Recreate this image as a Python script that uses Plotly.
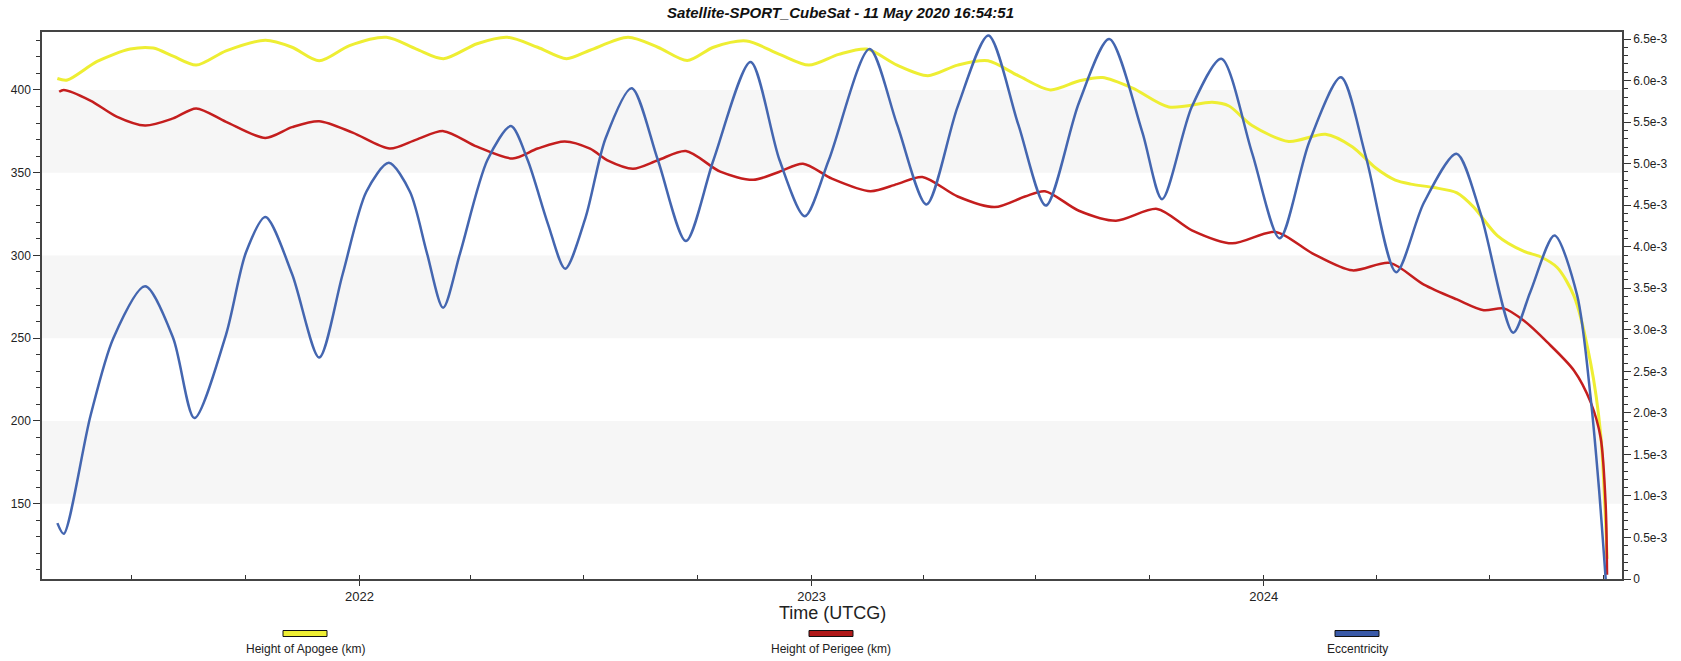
import plotly.graph_objects as go
from datetime import datetime

# ---------------- data (decimal years / values) ----------------
apogee_t = [2021.332, 2021.354, 2021.42, 2021.493, 2021.544, 2021.588, 2021.639, 2021.705, 2021.792,
            2021.851, 2021.911, 2021.978, 2022.06, 2022.126, 2022.186, 2022.26, 2022.327, 2022.394,
            2022.458, 2022.51, 2022.594, 2022.66, 2022.725, 2022.783, 2022.856, 2022.929, 2022.994,
            2023.06, 2023.122, 2023.189, 2023.257, 2023.323, 2023.39, 2023.457, 2023.528, 2023.591,
            2023.643, 2023.71, 2023.79, 2023.886, 2023.923, 2023.974, 2024.055, 2024.136, 2024.195,
            2024.247, 2024.29, 2024.324, 2024.375, 2024.426, 2024.463, 2024.515, 2024.574, 2024.61,
            2024.647, 2024.684, 2024.721, 2024.743, 2024.754, 2024.757]
apogee_km = [406.9, 406.0, 417.2, 424.7, 425.3, 420.4, 415.0, 423.6, 430.0,
             425.8, 417.6, 426.8, 431.8, 424.7, 418.9, 427.9, 431.8, 425.8,
             418.9, 424.0, 431.8, 425.8, 417.8, 425.8, 429.6, 421.5, 415.0,
             421.5, 424.7, 415.0, 408.6, 415.0, 417.6, 408.6, 400.0, 405.4,
             407.5, 401.1, 389.7, 392.5, 390.3, 378.5, 368.9, 373.2, 365.7,
             352.8, 345.5, 343.1, 341.0, 337.8, 329.2, 312.0, 302.4, 299.2,
             292.7, 275.6, 234.8, 191.9, 138.2, 116.7]

perigee_t = [2021.336, 2021.346, 2021.405, 2021.463, 2021.526, 2021.588, 2021.639, 2021.705, 2021.792,
             2021.851, 2021.911, 2021.985, 2022.067, 2022.126, 2022.186, 2022.26, 2022.339, 2022.394,
             2022.454, 2022.51, 2022.551, 2022.605, 2022.66, 2022.722, 2022.798, 2022.871, 2022.929,
             2022.981, 2023.045, 2023.13, 2023.189, 2023.245, 2023.323, 2023.405, 2023.472, 2023.516,
             2023.591, 2023.673, 2023.764, 2023.841, 2023.93, 2024.026, 2024.107, 2024.195, 2024.278,
             2024.353, 2024.426, 2024.485, 2024.529, 2024.574, 2024.625, 2024.684, 2024.721, 2024.743,
             2024.754, 2024.757]
perigee_km = [398.9, 400.0, 393.6, 383.9, 378.5, 382.8, 388.8, 380.7, 371.0,
              377.5, 381.1, 374.2, 364.6, 370.0, 375.1, 365.7, 358.6, 364.6,
              368.9, 364.5, 357.1, 352.4, 357.5, 363.1, 350.6, 345.7, 350.6,
              355.4, 346.4, 338.8, 343.1, 347.4, 335.6, 329.2, 335.6, 338.8,
              327.0, 321.0, 328.1, 315.2, 307.3, 314.2, 301.3, 291.0, 295.5,
              282.4, 273.4, 266.9, 268.0, 260.5, 247.6, 230.5, 211.2, 189.7,
              149.0, 107.1]

ecc_t = [2021.332, 2021.346, 2021.405, 2021.456, 2021.526, 2021.588, 2021.635, 2021.705, 2021.749,
         2021.792, 2021.851, 2021.911, 2021.963, 2022.015, 2022.065, 2022.112, 2022.149, 2022.185,
         2022.223, 2022.283, 2022.335, 2022.372, 2022.417, 2022.455, 2022.50, 2022.544, 2022.602,
         2022.66, 2022.722, 2022.783, 2022.865, 2022.929, 2022.985, 2023.038, 2023.128, 2023.189,
         2023.254, 2023.323, 2023.391, 2023.457, 2023.518, 2023.591, 2023.658, 2023.731, 2023.775,
         2023.841, 2023.906, 2023.974, 2024.035, 2024.10, 2024.17, 2024.225, 2024.292, 2024.353,
         2024.425, 2024.478, 2024.55, 2024.588, 2024.641, 2024.691, 2024.721, 2024.739, 2024.754]
ecc = [0.673e-3, 0.544e-3, 1.959e-3, 2.902e-3, 3.523e-3, 2.902e-3, 1.937e-3, 2.943e-3, 3.930e-3,
       4.357e-3, 3.672e-3, 2.666e-3, 3.672e-3, 4.659e-3, 5.010e-3, 4.659e-3, 3.930e-3, 3.265e-3,
       3.930e-3, 5.044e-3, 5.452e-3, 5.044e-3, 4.273e-3, 3.736e-3, 4.350e-3, 5.300e-3, 5.909e-3,
       5.044e-3, 4.068e-3, 5.044e-3, 6.223e-3, 5.044e-3, 4.367e-3, 5.044e-3, 6.380e-3, 5.472e-3,
       4.509e-3, 5.687e-3, 6.544e-3, 5.472e-3, 4.495e-3, 5.731e-3, 6.500e-3, 5.386e-3, 4.573e-3,
       5.687e-3, 6.264e-3, 5.130e-3, 4.102e-3, 5.258e-3, 6.039e-3, 5.086e-3, 3.694e-3, 4.529e-3,
       5.120e-3, 4.401e-3, 2.965e-3, 3.459e-3, 4.136e-3, 3.417e-3, 2.175e-3, 1.102e-3, 0.0]

left_ticks = [150, 200, 250, 300, 350, 400]
right_tickvals = [0, 0.5e-3, 1.0e-3, 1.5e-3, 2.0e-3, 2.5e-3, 3.0e-3, 3.5e-3, 4.0e-3, 4.5e-3,
                  5.0e-3, 5.5e-3, 6.0e-3, 6.5e-3]
right_ticktext = ["0", "0.5e-3", "1.0e-3", "1.5e-3", "2.0e-3", "2.5e-3", "3.0e-3", "3.5e-3",
                  "4.0e-3", "4.5e-3", "5.0e-3", "5.5e-3", "6.0e-3", "6.5e-3"]
bands = [(150, 200), (250, 300), (350, 400)]
series_names = ["Height of Apogee (km)", "Height of Perigee (km)", "Eccentricity"]
x_range_dec = [2021.298, 2024.79]


def dec_to_date(y):
    yr = int(y)
    start = datetime(yr, 1, 1)
    end = datetime(yr + 1, 1, 1)
    return start + (end - start) * (y - yr)


def conv(ts):
    return [dec_to_date(v) for v in ts]


YEL = "#eeee33"
RED = "#c41e1e"
BLU = "#4466b0"
FONT = "Liberation Sans, Arial, sans-serif"

fig = go.Figure()
fig.add_trace(go.Scatter(x=conv(apogee_t), y=apogee_km, mode="lines", name=series_names[0],
                         line=dict(color=YEL, width=3, shape="spline", smoothing=0.8)))
fig.add_trace(go.Scatter(x=conv(perigee_t), y=perigee_km, mode="lines", name=series_names[1],
                         line=dict(color=RED, width=2.5, shape="spline", smoothing=0.8)))
fig.add_trace(go.Scatter(x=conv(ecc_t), y=ecc, mode="lines", name=series_names[2], yaxis="y2",
                         line=dict(color=BLU, width=2.5, shape="spline", smoothing=0.8)))

for lo, hi in bands:
    fig.add_shape(type="rect", xref="paper", yref="y", x0=0, x1=1, y0=lo, y1=hi,
                  fillcolor="#f6f6f6", line=dict(width=0), layer="below")

L, R, T, B = 42, 59, 32, 82
W, H = 1681, 661
pw = W - L - R
ph = H - T - B

# custom legend (swatch above label)
leg_px = [305, 831, 1357]
leg_cols = [YEL, "#b01818", "#3a5aa8"]
for px, col, name in zip(leg_px, leg_cols, series_names):
    xc = (px - L) / pw
    hw = 22 / pw
    y_sw = -(633.5 - (T + ph)) / ph
    hh = 3 / ph
    fig.add_shape(type="rect", xref="paper", yref="paper", x0=xc - hw, x1=xc + hw,
                  y0=y_sw - hh, y1=y_sw + hh, fillcolor=col, line=dict(color="#111111", width=1))
    fig.add_annotation(xref="paper", yref="paper", x=xc, y=-(649 - (T + ph)) / ph,
                       text=name, showarrow=False, xanchor="center", yanchor="middle",
                       font=dict(family=FONT, size=12, color="#222222"))

fig.add_annotation(xref="paper", yref="paper", x=(832 - L) / pw, y=-(613 - (T + ph)) / ph,
                   text="Time (UTCG)", showarrow=False, xanchor="center", yanchor="middle",
                   font=dict(family=FONT, size=18, color="#222222"))

fig.update_layout(
    width=W, height=H,
    margin=dict(l=L, r=R, t=T, b=B, autoexpand=False),
    paper_bgcolor="white", plot_bgcolor="white",
    showlegend=False,
    title=dict(text="<b><i>Satellite-SPORT_CubeSat - 11 May 2020 16:54:51</i></b>",
               x=0.5, xref="container", xanchor="center",
               y=1 - 13 / H, yref="container", yanchor="middle", automargin=False,
               font=dict(family=FONT, size=15, color="#111111")),
    xaxis=dict(type="date", range=[dec_to_date(x_range_dec[0]), dec_to_date(x_range_dec[1])],
               tick0="2022-01-01", dtick="M12", tickformat="%Y", automargin=False,
               ticks="outside", ticklen=5, tickcolor="#333", tickwidth=1,
               minor=dict(dtick="M3", tick0="2022-01-01", ticks="inside", ticklen=4, tickcolor="#333"),
               showgrid=False, showline=True, linecolor="#444", linewidth=1.5, mirror=True,
               tickfont=dict(family=FONT, size=13, color="#222"), zeroline=False),
    yaxis=dict(range=[104.5, 435], tickvals=left_ticks, ticks="outside", ticklen=7, automargin=False,
               tickcolor="#333", minor=dict(dtick=10, tick0=0, ticks="outside", ticklen=4, tickcolor="#333"),
               showgrid=False, showline=True, linecolor="#444", linewidth=1.5, zeroline=False,
               tickfont=dict(family=FONT, size=12, color="#222")),
    yaxis2=dict(range=[0, 6.585e-3], overlaying="y", side="right", tickvals=right_tickvals,
                ticktext=right_ticktext, ticks="outside", ticklen=7, tickcolor="#333", automargin=False,
                minor=dict(dtick=0.1e-3, tick0=0, ticks="outside", ticklen=4, tickcolor="#333"),
                showgrid=False, showline=True, linecolor="#444", linewidth=1.5, zeroline=False,
                tickfont=dict(family=FONT, size=12, color="#222")),
)

fig.write_html("out.html",
               config={"displayModeBar": False},
               post_script="document.body.style.margin='0';document.body.style.padding='0';"
                           "document.body.style.overflow='hidden';")
